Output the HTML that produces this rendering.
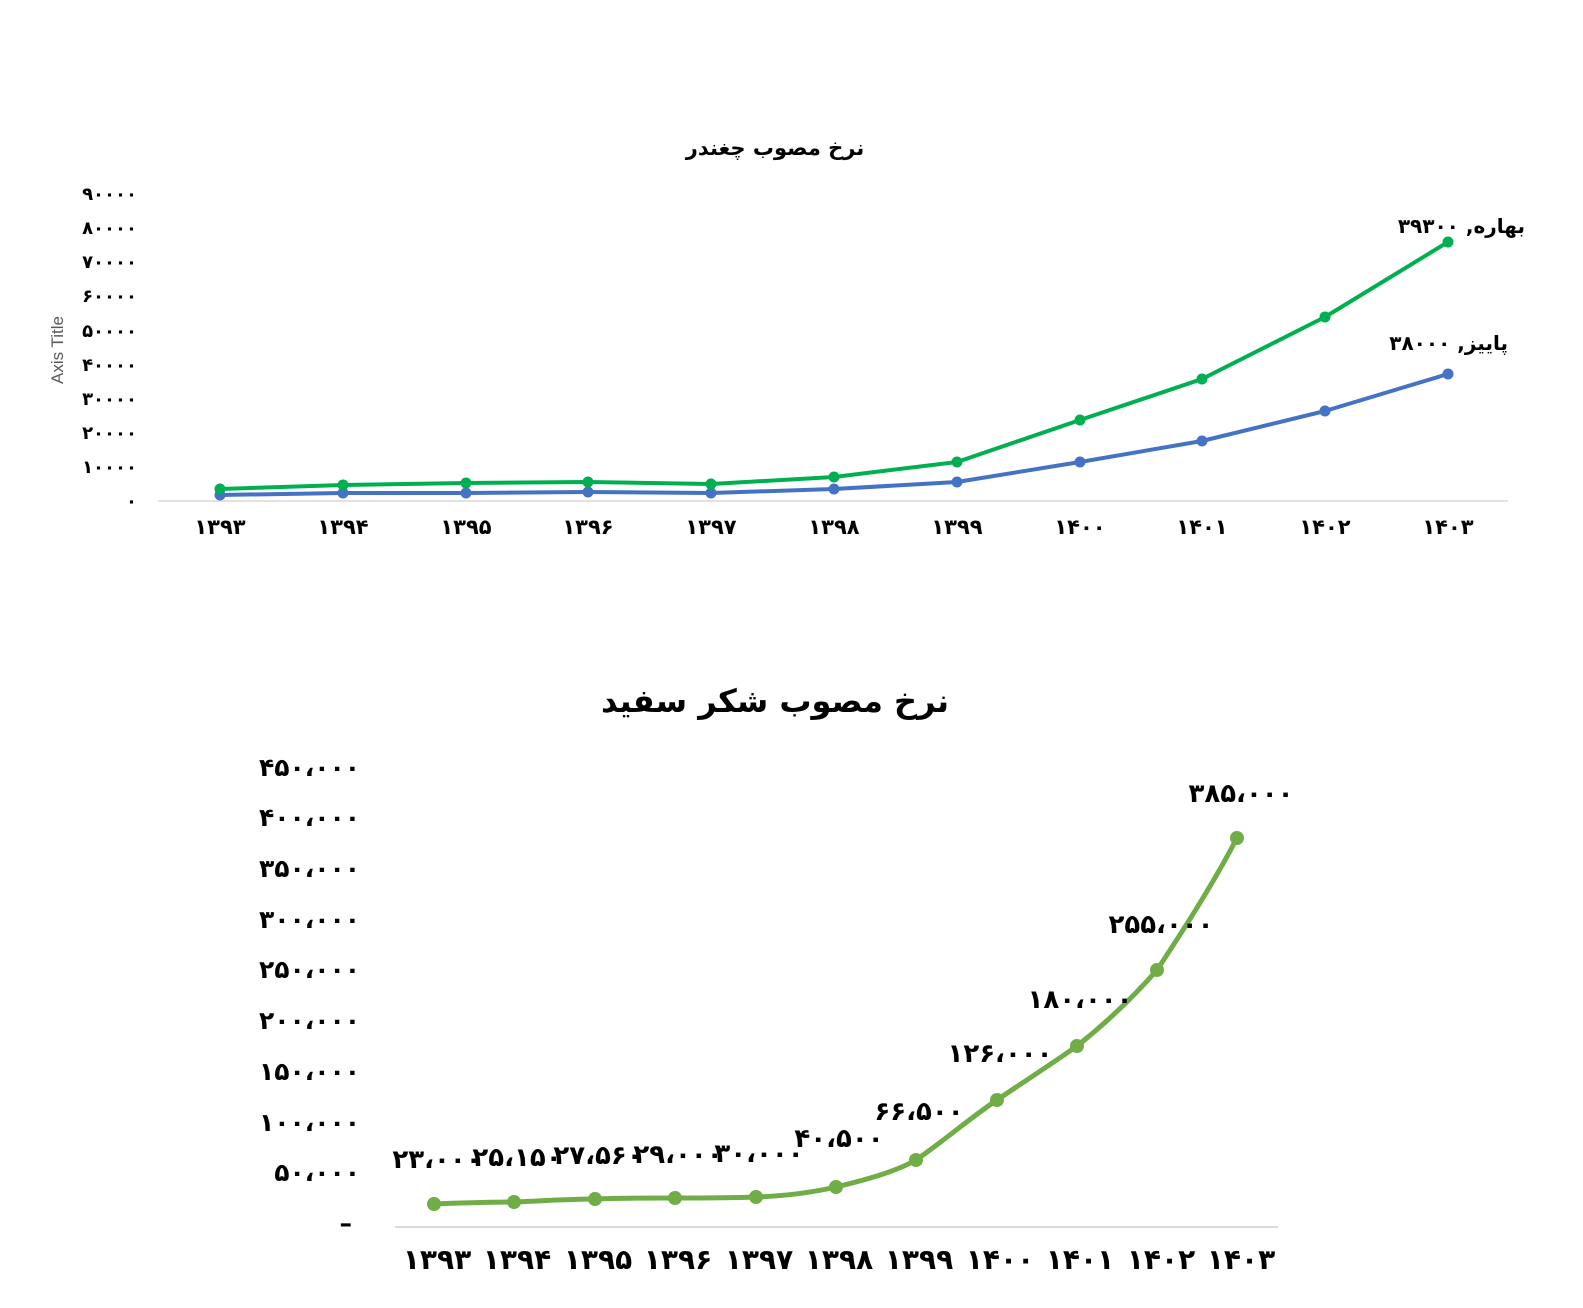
<!DOCTYPE html>
<html><head><meta charset="utf-8"><style>
body{margin:0;background:#fff}
text{font-family:"DejaVu Sans","Liberation Sans",sans-serif;font-weight:bold;fill:#000}
</style></head><body>
<svg width="1583" height="1303" xmlns="http://www.w3.org/2000/svg">
<!-- Top chart -->
<text x="775" y="155" font-size="21" text-anchor="middle">نرخ مصوب چغندر</text>
<text x="63" y="350" font-size="17" text-anchor="middle" transform="rotate(-90 63 350)" style="font-weight:normal;fill:#595959;font-family:'Liberation Sans',sans-serif">Axis Title</text>
<g font-size="18" text-anchor="end">
<text x="137" y="507">۰</text>
<text x="137" y="473">۱۰۰۰۰</text>
<text x="137" y="439">۲۰۰۰۰</text>
<text x="137" y="405">۳۰۰۰۰</text>
<text x="137" y="371">۴۰۰۰۰</text>
<text x="137" y="337">۵۰۰۰۰</text>
<text x="137" y="302">۶۰۰۰۰</text>
<text x="137" y="268">۷۰۰۰۰</text>
<text x="137" y="234">۸۰۰۰۰</text>
<text x="137" y="200">۹۰۰۰۰</text>
</g>
<line x1="158" y1="501" x2="1508" y2="501" stroke="#d9d9d9" stroke-width="1.5"/>
<g font-size="21" text-anchor="middle">
<text x="220" y="534">۱۳۹۳</text><text x="343" y="534">۱۳۹۴</text><text x="466" y="534">۱۳۹۵</text><text x="588" y="534">۱۳۹۶</text><text x="711" y="534">۱۳۹۷</text><text x="834" y="534">۱۳۹۸</text><text x="957" y="534">۱۳۹۹</text><text x="1080" y="534">۱۴۰۰</text><text x="1202" y="534">۱۴۰۱</text><text x="1325" y="534">۱۴۰۲</text><text x="1448" y="534">۱۴۰۳</text>
</g>
<polyline fill="none" stroke="#4472c4" stroke-width="4" stroke-linejoin="round" points="220,495 343,493 466,493 588,492 711,493 834,489 957,482 1080,462 1202,441 1325,411 1448,374"/>
<g fill="#4472c4"><circle cx="220" cy="495" r="5.5"/><circle cx="343" cy="493" r="5.5"/><circle cx="466" cy="493" r="5.5"/><circle cx="588" cy="492" r="5.5"/><circle cx="711" cy="493" r="5.5"/><circle cx="834" cy="489" r="5.5"/><circle cx="957" cy="482" r="5.5"/><circle cx="1080" cy="462" r="5.5"/><circle cx="1202" cy="441" r="5.5"/><circle cx="1325" cy="411" r="5.5"/><circle cx="1448" cy="374" r="5.5"/></g>
<polyline fill="none" stroke="#00b050" stroke-width="4" stroke-linejoin="round" points="220,489 343,485 466,483 588,482 711,484 834,477 957,462 1080,420 1202,379 1325,317 1448,242"/>
<g fill="#00b050"><circle cx="220" cy="489" r="5.5"/><circle cx="343" cy="485" r="5.5"/><circle cx="466" cy="483" r="5.5"/><circle cx="588" cy="482" r="5.5"/><circle cx="711" cy="484" r="5.5"/><circle cx="834" cy="477" r="5.5"/><circle cx="957" cy="462" r="5.5"/><circle cx="1080" cy="420" r="5.5"/><circle cx="1202" cy="379" r="5.5"/><circle cx="1325" cy="317" r="5.5"/><circle cx="1448" cy="242" r="5.5"/></g>
<text x="1525" y="233" font-size="20" text-anchor="start" direction="rtl" unicode-bidi="embed">بهاره, ۳۹۳۰۰</text>
<text x="1508" y="350" font-size="20" text-anchor="start" direction="rtl" unicode-bidi="embed">پاییز, ۳۸۰۰۰</text>

<!-- Bottom chart -->
<text x="775" y="712" font-size="32" text-anchor="middle">نرخ مصوب شکر سفید</text>
<g font-size="25" text-anchor="end">
<text x="352" y="1232">–</text>
<text x="360" y="1181">۵۰،۰۰۰</text>
<text x="360" y="1131">۱۰۰،۰۰۰</text>
<text x="360" y="1080">۱۵۰،۰۰۰</text>
<text x="360" y="1029">۲۰۰،۰۰۰</text>
<text x="360" y="978">۲۵۰،۰۰۰</text>
<text x="360" y="928">۳۰۰،۰۰۰</text>
<text x="360" y="877">۳۵۰،۰۰۰</text>
<text x="360" y="826">۴۰۰،۰۰۰</text>
<text x="360" y="776">۴۵۰،۰۰۰</text>
</g>
<line x1="395" y1="1227" x2="1278" y2="1227" stroke="#d9d9d9" stroke-width="2"/>
<g font-size="28" text-anchor="middle">
<text x="437" y="1269">۱۳۹۳</text><text x="517" y="1269">۱۳۹۴</text><text x="598" y="1269">۱۳۹۵</text><text x="678" y="1269">۱۳۹۶</text><text x="759" y="1269">۱۳۹۷</text><text x="839" y="1269">۱۳۹۸</text><text x="919" y="1269">۱۳۹۹</text><text x="1000" y="1269">۱۴۰۰</text><text x="1080" y="1269">۱۴۰۱</text><text x="1161" y="1269">۱۴۰۲</text><text x="1241" y="1269">۱۴۰۳</text>
</g>
<path fill="none" stroke="#70ad47" stroke-width="5" stroke-linecap="round" d="M434,1204 C460,1203 490,1202 514,1202 C540,1201 570,1199 595,1199 C620,1198 650,1198 675,1198 C700,1198 730,1198 756,1197 C785,1196 810,1193 836,1187 C865,1180 895,1172 916,1160 C945,1140 970,1118 997,1100 C1025,1081 1050,1065 1077,1046 C1110,1020 1135,995 1157,970 C1190,920 1215,880 1237,838"/>
<g fill="#70ad47"><circle cx="434" cy="1204" r="7"/><circle cx="514" cy="1202" r="7"/><circle cx="595" cy="1199" r="7"/><circle cx="675" cy="1198" r="7"/><circle cx="756" cy="1197" r="7"/><circle cx="836" cy="1187" r="7"/><circle cx="916" cy="1160" r="7"/><circle cx="997" cy="1100" r="7"/><circle cx="1077" cy="1046" r="7"/><circle cx="1157" cy="970" r="7"/><circle cx="1237" cy="838" r="7"/></g>
<g font-size="26" text-anchor="middle">
<text x="437" y="1168">۲۳،۰۰۰</text>
<text x="517" y="1166">۲۵،۱۵۰</text>
<text x="598" y="1164">۲۷،۵۶۰</text>
<text x="678" y="1163">۲۹،۰۰۰</text>
<text x="759" y="1162">۳۰،۰۰۰</text>
<text x="839" y="1147">۴۰،۵۰۰</text>
<text x="919" y="1120">۶۶،۵۰۰</text>
<text x="1000" y="1062">۱۲۶،۰۰۰</text>
<text x="1080" y="1008">۱۸۰،۰۰۰</text>
<text x="1161" y="933">۲۵۵،۰۰۰</text>
<text x="1241" y="802">۳۸۵،۰۰۰</text>
</g>
</svg>
</body></html>
